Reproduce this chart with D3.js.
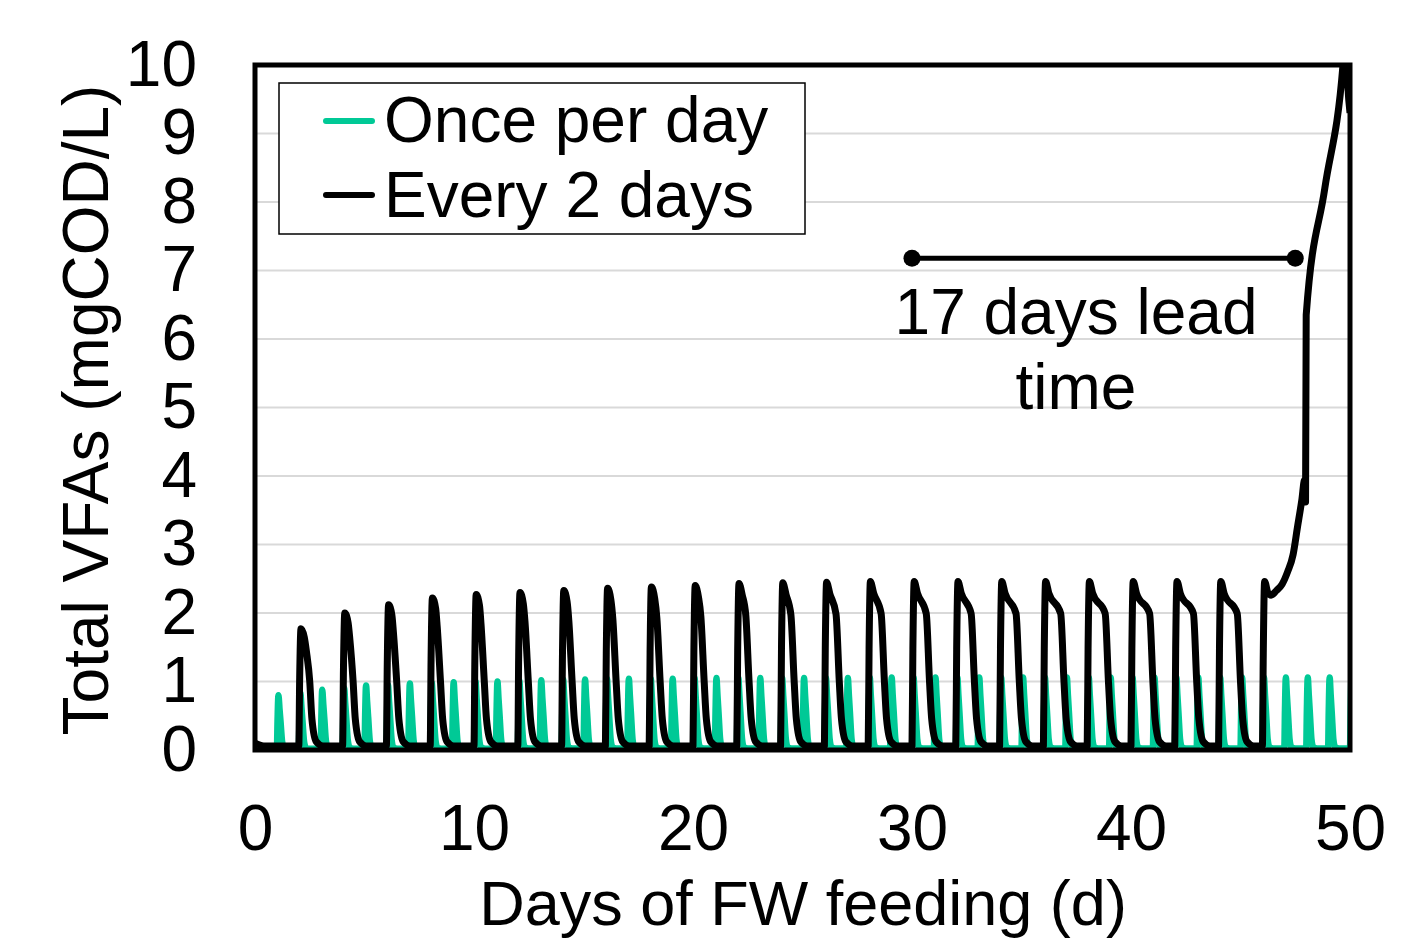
<!DOCTYPE html>
<meta charset="utf-8">
<head>
  <title>Total VFAs</title>
</head>

<style>
body { margin: 0; background: #fff; }
text { font-family: "Liberation Sans", Arial, sans-serif; fill: #000; }
</style>

<body>
  <svg id="chart" width="1426" height="941"></svg>

  <script src="https://cdn.jsdelivr.net/npm/d3@7"></script>
  <script>

// axis ticks
var xTicks = [0, 10, 20, 30, 40, 50];
var yTicks = [0, 1, 2, 3, 4, 5, 6, 7, 8, 9, 10];

// "Once per day": one spike per feeding day, peak height
var onceDays = [1, 2, 3, 4, 5, 6, 7, 8, 9, 10, 11, 12, 13, 14, 15, 16, 17, 18, 19, 20,
                21, 22, 23, 24, 25, 26, 27, 28, 29, 30, 31, 32, 33, 34, 35, 36, 37, 38, 39, 40,
                41, 42, 43, 44, 45, 46, 47, 48, 49, 50];
var onceHeights = [0.80, 0.84, 0.88, 0.91, 0.94, 0.95, 0.97, 0.98, 0.99, 1.00,
                   1.00, 1.01, 1.02, 1.03, 1.03, 1.04, 1.04, 1.04, 1.04, 1.05,
                   1.05, 1.05, 1.05, 1.05, 1.05, 1.05, 1.05, 1.06, 1.06, 1.06,
                   1.06, 1.06, 1.06, 1.06, 1.06, 1.06, 1.06, 1.06, 1.06, 1.06,
                   1.06, 1.06, 1.06, 1.06, 1.06, 1.06, 1.06, 1.06, 1.06, 1.07];
// spike shape: [days after feeding, fraction of peak]
var oncePulse = [[0, 0.02], [0.03, 0.55], [0.07, 1], [0.12, 0.75], [0.17, 0.5],
                 [0.24, 0.15], [0.32, 0.04], [0.5, 0.02]];

// "Every 2 days": peak height and time (d after feeding) when it falls back to 1 mgCOD/L
var everyDays = [2, 4, 6, 8, 10, 12, 14, 16, 18, 20, 22, 24, 26, 28, 30, 32, 34, 36, 38, 40, 42, 44];
var everyHeights = [1.77, 2.00, 2.12, 2.22, 2.27, 2.30, 2.33, 2.36, 2.38, 2.40, 2.43,
                    2.44, 2.45, 2.46, 2.46, 2.46, 2.46, 2.46, 2.46, 2.46, 2.46, 2.46];
var everyFall = [0.50, 0.48, 0.47, 0.47, 0.47, 0.48, 0.48, 0.49, 0.50, 0.51, 0.56,
                 0.62, 0.68, 0.74, 0.80, 0.85, 0.90, 0.94, 0.97, 1.00, 1.00, 1.00];
var everyStart = [[0, 0.1], [0.4, 0.06]];
// last feeding and the runaway accumulation
var everyEnd = [[46.0, 0.06], [46.04, 1.4], [46.1, 2.46], [46.25, 2.3], [46.4, 2.26],
                [46.65, 2.33], [46.9, 2.42], [47.15, 2.6], [47.4, 2.85], [47.6, 3.25],
                [47.8, 3.65], [47.93, 3.95], [47.97, 3.62], [48.0, 6.35], [48.85, 8.2],
                [49.68, 10.0], [49.8, 10.5], [49.9, 9.7], [50, 9.3]];

// lead time annotation
var leadDays = [30, 47.5];
var leadLevel = 7.18;
var leadText = ["17 days lead", "time"];

var legendNames = ["Once per day", "Every 2 days"];
var green = "#00c996";

var svg = d3.select("#chart");
var x = d3.scaleLinear().domain([0, 50]).range([255, 1350]);
var y = d3.scaleLinear().domain([0, 10]).range([750, 65]);

svg.append("defs").append("clipPath").attr("id", "plot")
  .append("rect")
  .attr("x", x(0)).attr("y", y(10))
  .attr("width", x(50) - x(0)).attr("height", y(0) - y(10));

// gridlines
svg.append("g").selectAll("line")
  .data(yTicks.slice(1, -1))
  .enter().append("line")
  .attr("x1", x(0)).attr("x2", x(50))
  .attr("y1", function(d) { return y(d); })
  .attr("y2", function(d) { return y(d); })
  .style("stroke", "#d9d9d9")
  .style("stroke-width", 2);

// build the two series from the read peaks
var oncePts = [[0, 0.02]];
onceDays.forEach(function(d, i) {
  oncePulse.forEach(function(p) {
    oncePts.push([d + p[0], onceHeights[i] * p[1]]);
  });
});

var everyPts = everyStart.slice();
everyDays.forEach(function(d, i) {
  var h = everyHeights[i], f = everyFall[i];
  everyPts.push([d, 0.06], [d + 0.04, 0.6 * h], [d + 0.1, h], [d + 0.25, 0.93 * h],
                [d + f - 0.15, 0.81 * h], [d + f, 1.0], [d + f + 0.1, 0.45],
                [d + f + 0.3, 0.12], [d + f + 0.6, 0.06]);
});
everyPts = everyPts.concat(everyEnd);

var line = d3.line()
  .x(function(d) { return x(d[0]); })
  .y(function(d) { return y(d[1]); })
  .curve(d3.curveMonotoneX);

var lines = svg.append("g").attr("clip-path", "url(#plot)");
lines.append("path")
  .attr("d", line(oncePts))
  .style("fill", "none")
  .style("stroke", green)
  .style("stroke-width", 6.5)
  .style("stroke-linejoin", "round");
lines.append("path")
  .attr("d", line(everyPts))
  .style("fill", "none")
  .style("stroke", "#000")
  .style("stroke-width", 7)
  .style("stroke-linejoin", "round");

// frame
svg.append("rect")
  .attr("x", x(0)).attr("y", y(10))
  .attr("width", x(50) - x(0)).attr("height", y(0) - y(10))
  .style("fill", "none")
  .style("stroke", "#000")
  .style("stroke-width", 5);

// axes
var yAxis = svg.append("g")
  .attr("transform", "translate(" + x(0) + ",0)")
  .call(d3.axisLeft(y).tickValues(yTicks).tickSize(0).tickPadding(58));
var xAxis = svg.append("g")
  .attr("transform", "translate(0," + y(0) + ")")
  .call(d3.axisBottom(x).tickValues(xTicks).tickSize(0).tickPadding(55));
[yAxis, xAxis].forEach(function(a) {
  a.select(".domain").remove();
  a.attr("font-family", null).attr("font-size", null);
  a.selectAll("text").style("font-size", "64px").style("fill", "#000");
});

svg.append("text")
  .attr("transform", "translate(108,410) rotate(-90)")
  .attr("text-anchor", "middle")
  .style("font-size", "64px")
  .text("Total VFAs (mgCOD/L)");

svg.append("text")
  .attr("x", 803).attr("y", 925)
  .attr("text-anchor", "middle")
  .style("font-size", "63px")
  .text("Days of FW feeding (d)");

// legend
var legend = svg.append("g");
legend.append("rect")
  .attr("x", 279).attr("y", 83).attr("width", 526).attr("height", 151)
  .style("fill", "#fff").style("stroke", "#000").style("stroke-width", 1.5);
legendNames.forEach(function(name, i) {
  legend.append("line")
    .attr("x1", 326).attr("x2", 372)
    .attr("y1", 121 + i * 74).attr("y2", 121 + i * 74)
    .style("stroke", i == 0 ? green : "#000")
    .style("stroke-width", 6)
    .style("stroke-linecap", "round");
  legend.append("text")
    .attr("x", 384).attr("y", 142 + i * 75)
    .style("font-size", "64px")
    .text(name);
});

// lead time bar
var lead = svg.append("g");
lead.append("line")
  .attr("x1", x(leadDays[0])).attr("x2", x(leadDays[1]))
  .attr("y1", y(leadLevel)).attr("y2", y(leadLevel))
  .style("stroke", "#000").style("stroke-width", 5);
lead.selectAll("circle")
  .data(leadDays)
  .enter().append("circle")
  .attr("cx", function(d) { return x(d); })
  .attr("cy", y(leadLevel))
  .attr("r", 8.5)
  .style("fill", "#000");
leadText.forEach(function(t, i) {
  lead.append("text")
    .attr("x", 1076).attr("y", 334 + i * 75)
    .attr("text-anchor", "middle")
    .style("font-size", "64px")
    .text(t);
});
  </script>
</body>
